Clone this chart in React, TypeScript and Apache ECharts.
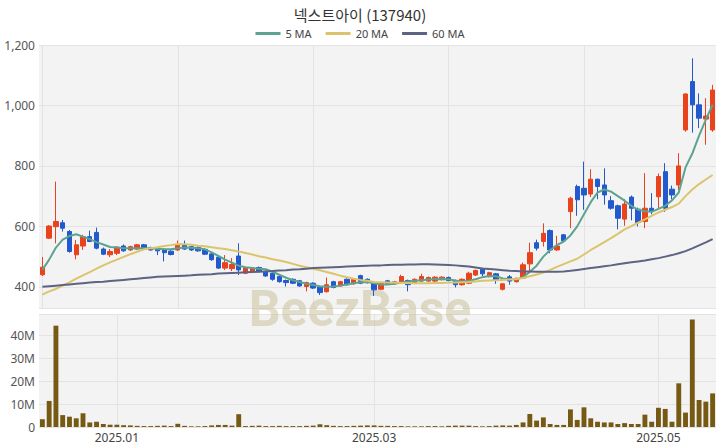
import React, { useEffect, useRef } from "react";
import * as echarts from "echarts";

const dates = [
  "2024-12-13","2024-12-16","2024-12-17","2024-12-18","2024-12-19","2024-12-20","2024-12-23","2024-12-24","2024-12-26","2024-12-27","2024-12-30",
  "2025-01-02","2025-01-03","2025-01-06","2025-01-07","2025-01-08","2025-01-09","2025-01-10","2025-01-13","2025-01-14","2025-01-15","2025-01-16","2025-01-17","2025-01-20","2025-01-21","2025-01-22","2025-01-23","2025-01-24","2025-01-31",
  "2025-02-03","2025-02-04","2025-02-05","2025-02-06","2025-02-07","2025-02-10","2025-02-11","2025-02-12","2025-02-13","2025-02-14","2025-02-17","2025-02-18","2025-02-19","2025-02-20","2025-02-21","2025-02-24","2025-02-25","2025-02-26","2025-02-27","2025-02-28",
  "2025-03-04","2025-03-05","2025-03-06","2025-03-07","2025-03-10","2025-03-11","2025-03-12","2025-03-13","2025-03-14","2025-03-17","2025-03-18","2025-03-19","2025-03-20","2025-03-21","2025-03-24","2025-03-25","2025-03-26","2025-03-27","2025-03-28","2025-03-31",
  "2025-04-01","2025-04-02","2025-04-03","2025-04-04","2025-04-07","2025-04-08","2025-04-09","2025-04-10","2025-04-11","2025-04-14","2025-04-15","2025-04-16","2025-04-17","2025-04-18","2025-04-21","2025-04-22","2025-04-23","2025-04-24","2025-04-25","2025-04-28","2025-04-29","2025-04-30",
  "2025-05-02","2025-05-07","2025-05-08","2025-05-09","2025-05-12","2025-05-13","2025-05-14","2025-05-15","2025-05-16",
];

// [open, close, low, high]
const ohlc = [
  [440,465,436,499],[561,601,558,604],[599,616,544,748],[612,594,583,621],[583,517,513,588],
  [506,539,491,555],[535,566,522,572],[566,550,548,586],[580,528,524,596],[525,508,505,530],
  [506,517,498,525],[511,531,505,535],[535,519,516,540],[522,533,519,536],[525,539,522,542],
  [539,525,522,542],[530,522,519,533],[527,519,505,530],[524,513,484,527],[518,507,504,522],
  [522,539,519,553],[539,525,522,553],[533,522,519,536],[530,519,516,536],[524,508,505,527],
  [509,490,486,512],[498,462,459,500],[462,480,456,505],[460,474,452,495],[502,456,439,544],
  [445,462,442,465],[450,462,447,465],[464,451,448,467],[451,436,433,455],[445,425,420,448],
  [434,417,414,437],[421,414,401,424],[425,412,409,428],[420,403,400,423],[401,414,385,417],
  [412,396,393,415],[399,381,373,402],[384,407,381,431],[417,398,395,420],[403,417,400,420],
  [425,407,404,428],[410,425,407,428],[437,412,409,440],[425,414,411,428],[412,390,370,415],
  [392,412,389,415],[420,410,407,423],[410,417,407,420],[414,434,411,440],[421,407,385,424],
  [412,425,409,428],[419,434,416,443],[419,431,416,434],[419,432,416,435],[424,432,421,435],
  [431,421,418,434],[421,407,398,424],[407,425,404,428],[412,445,409,450],[439,454,436,457],
  [458,443,434,463],[434,447,431,450],[443,423,410,446],[392,410,388,412],[433,419,407,439],
  [417,428,414,431],[429,473,426,480],[476,513,445,546],[546,528,520,556],[550,577,533,610],
  [586,522,511,590],[522,535,519,569],[572,552,548,575],[649,693,594,698],[732,688,635,738],
  [726,704,655,814],[707,756,697,789],[756,732,690,758],[737,704,672,792],[685,660,655,700],
  [668,627,590,672],[624,674,602,690],[697,660,620,702],[657,613,600,662],[616,660,594,776],
  [660,649,640,710],[698,765,660,775],[781,660,648,809],[723,704,690,735],[737,800,720,842],
  [919,1038,913,1040],[1079,1002,910,1156],[1002,958,925,1040],[955,965,870,1024],[919,1051,913,1068],
];

const ma5 = [
  456,490,530,556,568,574,566,558,548,540,
  532,530,528,528,528,528,528,526,524,524,
  528,530,529,528,524,514,502,490,480,470,
  465,462,460,458,450,440,430,422,416,410,
  406,402,400,401,404,408,412,415,416,412,
  408,408,410,414,418,420,422,424,425,426,
  425,421,418,420,425,432,436,435,428,425,
  424,432,450,470,500,522,538,550,570,600,
  640,680,712,722,715,700,685,668,655,650,
  648,658,668,686,712,795,841,900,953,1003,
];

const ma20 = [
  374,385,393,404,415,427,438,449,460,471,
  481,490,499,508,516,524,528,531,535,538,
  542,541,539,536,534,531,528,525,521,517,
  512,507,501,497,491,487,482,476,470,465,
  460,455,449,443,437,432,427,423,420,416,
  415,414,414,413,413,412,412,412,413,413,
  414,414,415,416,418,420,421,422,423,424,
  426,429,435,441,447,456,466,475,484,493,
  507,522,535,548,561,575,590,601,612,623,
  635,646,655,664,675,700,722,740,755,770,
];

const ma60 = [
  400,402,404,406,408,410,412,414,416,417,
  419,421,423,425,427,429,431,433,434,435,
  436,437,438,440,441,442,444,445,446,447,
  448,449,450,451,452,454,455,457,458,460,
  462,463,464,465,466,467,468,469,470,471,
  471,472,473,473,474,474,475,475,474,473,
  472,471,469,467,464,461,459,457,455,453,
  452,451,451,450,450,450,450,451,453,456,
  459,462,465,468,471,475,478,481,484,487,
  491,495,500,505,511,518,527,537,547,558,
];

// volume in millions of shares
const volumeM = [
  3.4,11.4,44.3,5.2,4.5,3.8,6.0,2.0,2.3,1.3,
  1.0,1.0,0.8,0.7,0.5,0.4,0.4,0.5,0.6,0.4,
  1.4,0.5,0.3,0.3,0.4,0.7,0.9,0.9,0.6,5.6,
  0.4,0.5,0.6,0.4,0.4,0.5,0.4,0.4,0.4,0.5,
  0.6,1.2,0.8,0.5,0.4,0.4,0.5,0.6,0.7,0.7,
  0.5,0.5,0.4,0.4,0.3,0.3,0.3,0.4,0.4,0.3,
  0.5,0.6,0.6,0.6,0.4,0.3,0.4,0.6,0.7,0.6,
  0.9,2.0,5.7,2.8,4.2,1.3,0.9,0.9,7.7,3.1,
  8.6,3.8,2.3,2.0,2.0,1.3,1.7,1.3,1.3,5.4,
  2.3,8.4,7.9,2.3,19.1,6.3,47.0,11.8,11.1,14.7,
];

const monthTicks = ["2025-01-02", "2025-03-04", "2025-05-02"];

const UP = "#e8431c";
const DOWN = "#2259cc";
const FONT = "'Noto Sans', 'Noto Sans CJK KR', sans-serif";

export default function App() {
  const ref = useRef<HTMLDivElement>(null);
  useEffect(() => {
    document.body.style.margin = "0";
    if (!ref.current) return;
    const chart = echarts.init(ref.current, undefined, { renderer: "svg" });
    const isMonthTick = (_i: number, v: string) => monthTicks.includes(v);
    chart.setOption({
      animation: false,
      backgroundColor: "#ffffff",
      title: {
        text: "넥스트아이 (137940)",
        left: "center",
        top: 2,
        textStyle: { fontFamily: "'Noto Sans CJK KR', sans-serif", fontSize: 15, fontWeight: "normal", color: "#333" },
      },
      legend: {
        top: 23,
        left: "center",
        itemWidth: 25,
        itemHeight: 3,
        itemGap: 14,
        icon: "rect",
        textStyle: { fontFamily: FONT, fontSize: 11, color: "#444" },
        data: ["5 MA", "20 MA", "60 MA"],
      },
      graphic: [
        {
          type: "text",
          left: "center",
          top: 284,
          z: 1,
          style: {
            text: "BeezBase",
            fontFamily: "Roboto, 'Noto Sans', sans-serif",
            fontWeight: "bold",
            fontSize: 50,
            fill: "rgba(200,190,150,0.5)",
          },
        },
      ],
      grid: [
        { left: 39, right: 4, top: 45, height: 263, show: true, backgroundColor: "#f3f3f3", borderWidth: 0 },
        { left: 39, right: 4, top: 314, height: 113, show: true, backgroundColor: "#f3f3f3", borderWidth: 0 },
      ],
      xAxis: [
        {
          type: "category",
          gridIndex: 0,
          data: dates,
          boundaryGap: true,
          axisLine: { show: false },
          axisTick: { show: false },
          axisLabel: { show: false },
          splitLine: { show: true, interval: 19, alignWithLabel: true, lineStyle: { color: "#e3e3e3", width: 1 } },
        },
        {
          type: "category",
          gridIndex: 1,
          data: dates,
          boundaryGap: true,
          axisLine: { show: false },
          axisTick: { show: false },
          axisLabel: {
            interval: isMonthTick,
            margin: 4,
            fontFamily: FONT,
            fontSize: 12,
            color: "#444",
            formatter: (v: string) => v.slice(0, 7).replace("-", "."),
          },
          splitLine: { show: true, interval: isMonthTick, alignWithLabel: true, lineStyle: { color: "#e3e3e3", width: 1 } },
        },
      ],
      yAxis: [
        {
          type: "value",
          gridIndex: 0,
          min: 330,
          max: 1200,
          axisLine: { show: false },
          axisTick: { show: false },
          axisLabel: {
            showMinLabel: false,
            margin: 4,
            fontFamily: FONT,
            fontSize: 12,
            color: "#555",
            formatter: (v: number) => v.toLocaleString("en-US"),
          },
          splitLine: { lineStyle: { color: "#e3e3e3" } },
        },
        {
          type: "value",
          gridIndex: 1,
          min: 0,
          max: 49.4,
          interval: 10,
          axisLine: { show: false },
          axisTick: { show: false },
          axisLabel: {
            showMaxLabel: false,
            margin: 4,
            fontFamily: FONT,
            fontSize: 12,
            color: "#555",
            formatter: (v: number) => (v === 0 ? "0" : v + "M"),
          },
          splitLine: { lineStyle: { color: "#e3e3e3" } },
        },
      ],
      series: [
        {
          name: "candle",
          type: "candlestick",
          xAxisIndex: 0,
          yAxisIndex: 0,
          data: ohlc,
          barWidth: "72%",
          z: 3,
          itemStyle: { color: UP, color0: DOWN, borderColor: UP, borderColor0: DOWN, borderWidth: 1 },
        },
        {
          name: "5 MA",
          type: "line",
          xAxisIndex: 0,
          yAxisIndex: 0,
          data: ma5,
          showSymbol: false,
          symbol: "none",
          z: 4,
          lineStyle: { color: "#5da391", width: 2 },
          itemStyle: { color: "#5da391" },
        },
        {
          name: "20 MA",
          type: "line",
          xAxisIndex: 0,
          yAxisIndex: 0,
          data: ma20,
          showSymbol: false,
          symbol: "none",
          z: 4,
          lineStyle: { color: "#dcc46c", width: 2 },
          itemStyle: { color: "#dcc46c" },
        },
        {
          name: "60 MA",
          type: "line",
          xAxisIndex: 0,
          yAxisIndex: 0,
          data: ma60,
          showSymbol: false,
          symbol: "none",
          z: 4,
          lineStyle: { color: "#5c6383", width: 2 },
          itemStyle: { color: "#5c6383" },
        },
        {
          name: "Volume",
          type: "bar",
          xAxisIndex: 1,
          yAxisIndex: 1,
          data: volumeM,
          barWidth: "72%",
          z: 3,
          itemStyle: { color: "#765a14" },
        },
      ],
    });
    return () => chart.dispose();
  }, []);
  return <div ref={ref} style={{ width: 720, height: 448 }} />;
}
